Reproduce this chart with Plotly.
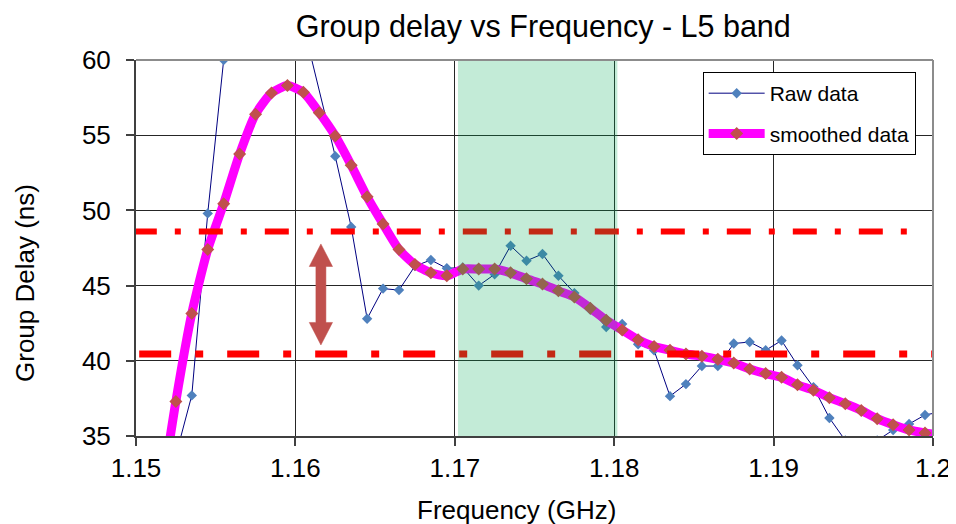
import plotly.graph_objects as go

# ---------------- data ----------------
freq_raw = [1.1525, 1.1535, 1.1545, 1.1555, 1.1565, 1.1575, 1.1585, 1.1595, 1.1605, 1.1615,
            1.1625, 1.1635, 1.1645, 1.1655, 1.1665, 1.1675, 1.1685, 1.1695, 1.1705, 1.1715,
            1.1725, 1.1735, 1.1745, 1.1755, 1.1765, 1.1775, 1.1785, 1.1795, 1.1805, 1.1815,
            1.1825, 1.1835, 1.1845, 1.1855, 1.1865, 1.1875, 1.1885, 1.1895, 1.1905, 1.1915,
            1.1925, 1.1935, 1.1945, 1.1955, 1.1965, 1.1975, 1.1985, 1.1995, 1.2005]
raw_delay = [33.7, 37.7, 49.8, 60.0, 75.0, 80.0, 78.0, 70.0, 62.3, None,
             53.6, 48.9, 42.8, 44.8, 44.7, 46.3, 46.7, 46.15, 46.2, 45.0,
             45.75, 47.65, 46.65, 47.1, 45.65, 44.5, 43.4, 42.25, 42.45, 41.1,
             40.7, 37.65, 38.45, 39.65, 39.65, 41.15, 41.25, 40.7, 41.35, 39.7,
             38.25, 36.2, 34.7, 34.5, 34.7, 35.4, 35.8, 36.4, 36.6]

freq_smooth = [1.1515, 1.1525, 1.1535, 1.1545, 1.1555, 1.1565, 1.1575, 1.1585, 1.1595, 1.1605,
               1.1615, 1.1625, 1.1635, 1.1645, 1.1655, 1.1665, 1.1675, 1.1685, 1.1695, 1.1705,
               1.1715, 1.1725, 1.1735, 1.1745, 1.1755, 1.1765, 1.1775, 1.1785, 1.1795, 1.1805,
               1.1815, 1.1825, 1.1835, 1.1845, 1.1855, 1.1865, 1.1875, 1.1885, 1.1895, 1.1905,
               1.1915, 1.1925, 1.1935, 1.1945, 1.1955, 1.1965, 1.1975, 1.1985, 1.1995, 1.2005]
smooth_delay = [30.5, 37.3, 43.15, 47.4, 50.45, 53.75, 56.4, 57.8, 58.3, 57.85,
                56.5, 54.95, 53.0, 50.9, 49.1, 47.4, 46.4, 45.85, 45.65, 46.1,
                46.1, 46.1, 45.85, 45.45, 45.1, 44.65, 44.25, 43.5, 42.7, 42.05,
                41.4, 40.95, 40.7, 40.45, 40.3, 40.1, 39.85, 39.45, 39.15, 38.9,
                38.4, 38.05, 37.55, 37.15, 36.7, 36.15, 35.75, 35.4, 35.2, 35.05]

upper_limit = 48.6
lower_limit = 40.45
band_start, band_end = 1.1702, 1.1802
arrow_freq = 1.1616
arrow_top, arrow_bottom = 47.77, 41.05

x_ticks = [1.15, 1.16, 1.17, 1.18, 1.19, 1.2]
x_tick_labels = ["1.15", "1.16", "1.17", "1.18", "1.19", "1.2"]
y_ticks = [35, 40, 45, 50, 55, 60]

title_text = "Group delay vs Frequency - L5 band"
x_title = "Frequency (GHz)"
y_title = "Group Delay (ns)"

# ---------------- figure ----------------
FONT = "Liberation Sans, Arial, sans-serif"
fig = go.Figure()

fig.add_trace(go.Scatter(
    x=freq_raw, y=raw_delay, name="Raw data", mode="lines+markers",
    connectgaps=True,
    line=dict(color="#000080", width=1),
    marker=dict(symbol="diamond", size=8, color="#4F81BD"),
    legendgroup="a",
))
fig.add_trace(go.Scatter(
    x=freq_smooth, y=smooth_delay, name="smoothed data", mode="lines+markers",
    line=dict(color="#FF00FF", width=9, shape="spline", smoothing=0.6),
    marker=dict(symbol="diamond", size=10, color="#C0504D"),
    legendgroup="b",
))

shapes = [
    dict(type="line", xref="x", yref="y", x0=1.1498, x1=1.1985, y0=upper_limit, y1=upper_limit,
         line=dict(color="#FF0000", width=6, dash="24px,18px,6px,18px"), layer="above"),
    dict(type="line", xref="x", yref="y", x0=1.1502, x1=1.2, y0=lower_limit, y1=lower_limit,
         line=dict(color="#FF0000", width=7, dash="32px,24px,8px,24px"), layer="above"),
    dict(type="rect", xref="x", yref="y", x0=band_start, x1=band_end, y0=35, y1=60,
         fillcolor="rgba(0,170,85,0.235)", line=dict(width=0), layer="above"),
    # plot-area frame (top and right), grey as in the reference
    dict(type="line", xref="paper", yref="paper", x0=0, x1=1, y0=1, y1=1,
         line=dict(color="#8c8c8c", width=2), layer="above"),
    dict(type="line", xref="paper", yref="paper", x0=1, x1=1, y0=0, y1=1,
         line=dict(color="#8c8c8c", width=2), layer="above"),
]
# double-headed arrow
hw_shaft = 0.000314
hw_head = 0.00073
head_len = 1.5
ax_ = arrow_freq
path = (f"M {ax_} {arrow_top} L {ax_ + hw_head} {arrow_top - head_len} "
        f"L {ax_ + hw_shaft} {arrow_top - head_len} L {ax_ + hw_shaft} {arrow_bottom + head_len} "
        f"L {ax_ + hw_head} {arrow_bottom + head_len} L {ax_} {arrow_bottom} "
        f"L {ax_ - hw_head} {arrow_bottom + head_len} L {ax_ - hw_shaft} {arrow_bottom + head_len} "
        f"L {ax_ - hw_shaft} {arrow_top - head_len} L {ax_ - hw_head} {arrow_top - head_len} Z")
shapes.append(dict(type="path", xref="x", yref="y", path=path, fillcolor="#C0504D",
                   line=dict(color="#C0504D", width=0.5), layer="above"))

annotations = [
    dict(text=x_title, xref="paper", yref="paper", x=0.4774, y=-0.1955,
         xanchor="center", yanchor="middle", showarrow=False, font=dict(size=26)),
    dict(text=y_title, xref="paper", yref="paper", x=-0.1393, y=0.4069, textangle=-90,
         xanchor="center", yanchor="middle", showarrow=False, font=dict(size=26)),
]

fig.update_layout(
    width=948, height=516,
    margin=dict(l=128, r=23, t=52, b=88, autoexpand=False),
    paper_bgcolor="white", plot_bgcolor="white",
    font=dict(family=FONT, color="black"),
    title=dict(text=title_text, font=dict(size=30.5),
               x=0.511, xref="paper", xanchor="center", y=0.965, yref="container", yanchor="middle"),
    shapes=shapes,
    annotations=annotations,
    showlegend=True,
    legend=dict(x=0.711, y=0.968, xanchor="left", yanchor="top", bgcolor="white",
                bordercolor="black", borderwidth=1, font=dict(size=21),
                itemwidth=56, tracegroupgap=10),
)
fig.update_xaxes(
    range=[1.15, 1.2], tickvals=x_ticks, ticktext=x_tick_labels,
    showline=True, linecolor="#404040", linewidth=2, mirror=False,
    ticks="outside", ticklen=8, tickwidth=2, tickcolor="#404040",
    showgrid=True, gridcolor="#262626", gridwidth=1, zeroline=False,
    tickfont=dict(size=26), automargin=False,
)
fig.update_yaxes(
    range=[35, 60], tickvals=y_ticks,
    showline=True, linecolor="#404040", linewidth=2, mirror=False,
    ticks="outside", ticklen=8, tickwidth=2, tickcolor="#404040",
    showgrid=True, gridcolor="#262626", gridwidth=1, zeroline=False,
    tickfont=dict(size=26), ticklabelstandoff=10, automargin=False,
)

fig.write_html("out.html")
